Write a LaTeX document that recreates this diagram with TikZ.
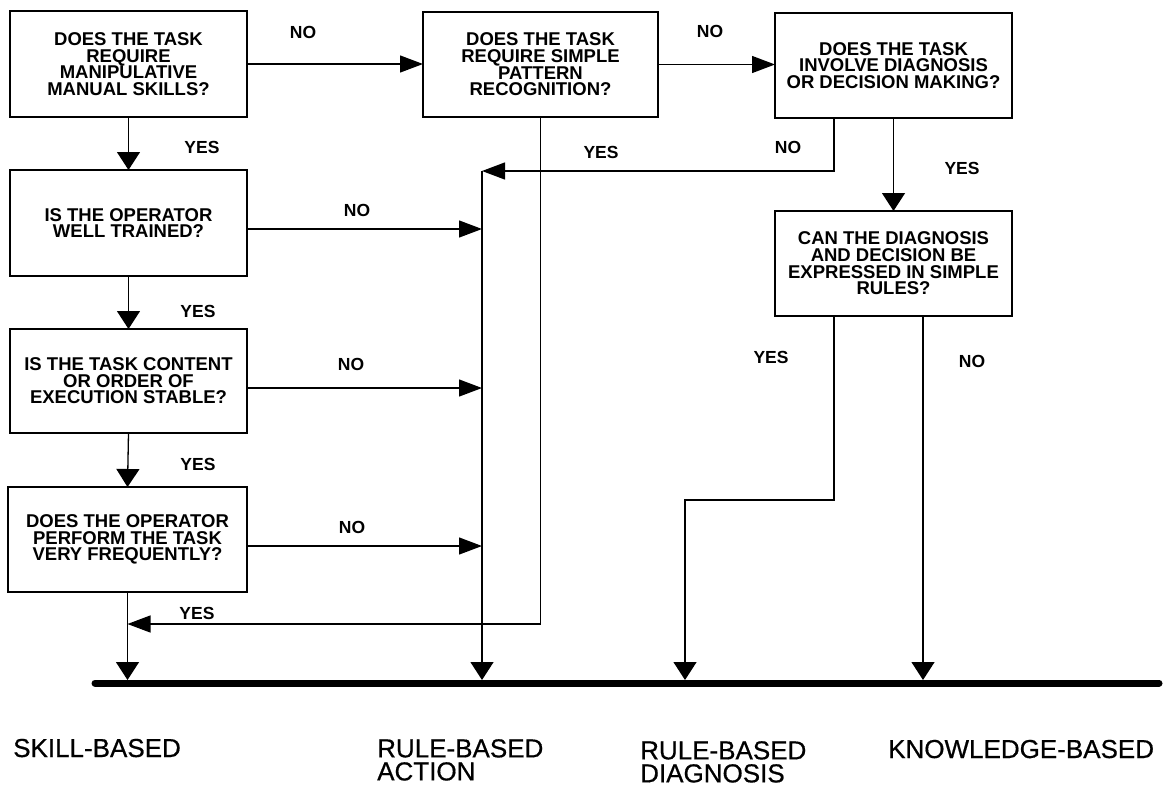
\documentclass[tikz,border=0pt]{standalone}
\usepackage{fontspec}
\setmainfont{Liberation Sans}
\newfontfamily\catfont[FakeBold=0.6]{Liberation Sans}
\usetikzlibrary{arrows.meta}
\begin{document}
\begin{tikzpicture}[x=1pt,y=-1pt,
  qbox/.style={draw, line width=1.3pt, align=center, inner sep=0pt, outer sep=0pt,
    font=\bfseries\fontsize{18.5}{16.6}\selectfont},
  lab/.style={font=\bfseries\fontsize{17.5}{17.5}\selectfont, inner sep=0pt},
  cat/.style={font=\catfont\fontsize{26}{23}\selectfont, inner sep=0pt, align=left},
  harr/.style={line width=1.3pt, -{Triangle[length=23pt,width=17pt]}},
  varr/.style={line width=1.3pt, -{Triangle[length=18pt,width=23pt]}},
]
\fill[white] (0,0) rectangle (1169,787);
\useasboundingbox (0,0) rectangle (1169,787);

% question boxes
\node[qbox, minimum width=237pt, minimum height=106pt] (b1) at (128.5,64)
  {DOES THE TASK\\REQUIRE\\MANIPULATIVE\\MANUAL SKILLS?};
\node[qbox, minimum width=237pt, minimum height=106pt] (b2) at (128.5,223)
  {IS THE OPERATOR\\WELL TRAINED?};
\node[qbox, minimum width=237pt, minimum height=104pt] (b3) at (128.5,381)
  {IS THE TASK CONTENT\\OR ORDER OF\\EXECUTION STABLE?};
\node[qbox, minimum width=239pt, minimum height=105pt] (b4) at (127.5,539.5)
  {DOES THE OPERATOR\\PERFORM THE TASK\\VERY FREQUENTLY?};
\node[qbox, minimum width=235pt, minimum height=105pt] (b5) at (540.5,64.5)
  {DOES THE TASK\\REQUIRE SIMPLE\\PATTERN\\RECOGNITION?};
\node[qbox, minimum width=237pt, minimum height=105pt] (b6) at (893.5,65.5)
  {DOES THE TASK\\INVOLVE DIAGNOSIS\\OR DECISION MAKING?};
\node[qbox, minimum width=237pt, minimum height=105pt] (b7) at (893.5,263.5)
  {CAN THE DIAGNOSIS\\AND DECISION BE\\EXPRESSED IN SIMPLE\\RULES?};

% helper coordinates
\coordinate (railtop) at (482,171);
\coordinate (railbot) at (482,680);
\coordinate (skj) at (127.5,624);
\coordinate (skbot) at (127.5,680);
\coordinate (rdstep) at (685,500);
\coordinate (rdbot) at (685,680);
\coordinate (kbot) at (923,680);
\coordinate (tl) at (95,683);
\coordinate (tr) at (1159,683);

% thick base line
\draw[line width=7pt, line cap=round] (tl) -- (tr);

% connectors
\draw[harr] (b1.east) -- (b1.east -| b5.west);
\draw[harr] (b5.east) -- (b5.east -| b6.west);
\draw[varr] (b1.south) -- (b2.north);
\draw[varr] (b2.south) -- (b3.north);
\draw[varr] (b3.south) -- (b4.north);
\draw[varr] (b4.south) -- (skbot);
\draw[harr] ([yshift=-6pt]b2.east) -- ([yshift=-6pt]b2.east -| railtop);
\draw[harr] ([yshift=-7pt]b3.east) -- ([yshift=-7pt]b3.east -| railtop);
\draw[harr] ([yshift=-6.5pt]b4.east) -- ([yshift=-6.5pt]b4.east -| railtop);
\draw[harr] ([xshift=-59.5pt]b6.south) |- (railtop);
\draw[varr] (railtop) -- (railbot);
\draw[varr] (b6.south) -- (b7.north);
\draw[harr] (b5.south) |- (skj);
\draw[varr] ([xshift=-59.5pt]b7.south) |- (rdstep) -- (rdbot);
\draw[varr] ([xshift=29.5pt]b7.south) -- (kbot);

% YES / NO labels
\node[lab] (l1) at (303,32) {NO};
\node[lab] (l2) at (202,147) {YES};
\node[lab] (l3) at (357,210) {NO};
\node[lab] (l4) at (198,311) {YES};
\node[lab] (l5) at (351,364) {NO};
\node[lab] (l6) at (198,464) {YES};
\node[lab] (l7) at (352,527) {NO};
\node[lab] (l8) at (197,613) {YES};
\node[lab] (l9) at (710,31) {NO};
\node[lab] (l10) at (601,152) {YES};
\node[lab] (l11) at (788,147) {NO};
\node[lab] (l12) at (962,168) {YES};
\node[lab] (l13) at (771,357) {YES};
\node[lab] (l14) at (972,361) {NO};

% category labels
\node[cat, anchor=base west] (c1) at (13,757) {SKILL-BASED};
\node[cat, anchor=north west] (c2) at (377,739) {RULE-BASED\\ACTION};
\node[cat, anchor=north west] (c3) at (640,741) {RULE-BASED\\DIAGNOSIS};
\node[cat, anchor=base west] (c4) at (888,758) {KNOWLEDGE-BASED};
\end{tikzpicture}
\end{document}
